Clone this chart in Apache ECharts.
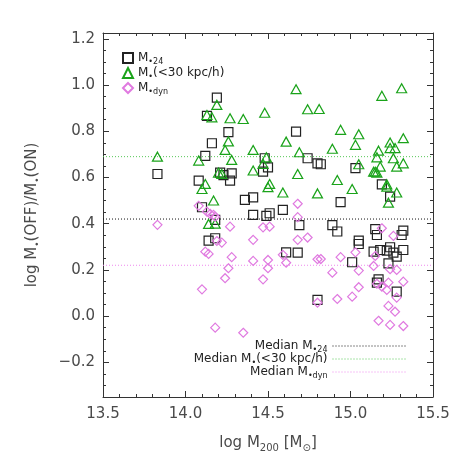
<!DOCTYPE html>
<html>
<head>
<meta charset="utf-8">
<script src="https://cdn.jsdelivr.net/npm/echarts@6/dist/echarts.min.js"></script>
<style>
  html, body { margin: 0; padding: 0; background: #fff; }
  #chart { width: 463px; height: 463px; }
</style>
</head>
<body>
<div id="chart"></div>
<script>
// values: [log M200, log M(OFF)/M(ON)]
const m24 = [
  [13.83, 0.615], [14.19, 0.945], [14.13, 0.866], [14.16, 0.748], [14.12, 0.693],
  [14.08, 0.586], [14.10, 0.471], [14.26, 0.796], [14.67, 0.798], [14.48, 0.683],
  [14.50, 0.644], [14.47, 0.625], [14.74, 0.683], [14.80, 0.661], [14.21, 0.621],
  [14.23, 0.610], [14.28, 0.618], [14.27, 0.586], [14.36, 0.503], [14.41, 0.514],
  [14.59, 0.460], [14.41, 0.438], [14.49, 0.434], [14.51, 0.445], [14.82, 0.657],
  [15.03, 0.640], [15.19, 0.570], [15.24, 0.517], [14.94, 0.493], [14.18, 0.416],
  [14.14, 0.327], [14.18, 0.337], [14.69, 0.394], [14.61, 0.276], [14.68, 0.275],
  [14.80, 0.070], [14.89, 0.394], [14.92, 0.366], [15.15, 0.376], [15.16, 0.351],
  [15.32, 0.370], [15.31, 0.351], [15.05, 0.327], [15.05, 0.312], [15.14, 0.279],
  [15.18, 0.286], [15.22, 0.283], [15.24, 0.298], [15.26, 0.275], [15.28, 0.257],
  [15.32, 0.286], [15.23, 0.228], [15.01, 0.233], [15.17, 0.159], [15.16, 0.145],
  [15.28, 0.106]
];
const m30 = [
  [14.19, 0.914], [14.13, 0.870], [14.16, 0.860], [13.83, 0.690], [14.08, 0.673],
  [14.20, 0.621], [14.12, 0.572], [14.10, 0.550], [14.17, 0.500], [14.67, 0.982],
  [14.27, 0.856], [14.35, 0.853], [14.48, 0.880], [14.74, 0.895], [14.81, 0.896],
  [14.26, 0.756], [14.24, 0.719], [14.61, 0.755], [14.41, 0.719], [14.69, 0.709],
  [14.28, 0.676], [14.49, 0.687], [14.47, 0.659], [14.41, 0.630], [14.22, 0.615],
  [14.68, 0.615], [14.51, 0.572], [14.50, 0.558], [14.59, 0.535], [14.80, 0.531],
  [15.31, 0.986], [15.19, 0.953], [14.94, 0.806], [15.05, 0.787], [15.03, 0.741],
  [15.32, 0.770], [15.24, 0.751], [14.89, 0.724], [15.24, 0.727], [15.27, 0.727],
  [15.17, 0.716], [15.16, 0.687], [15.26, 0.683], [15.32, 0.661], [15.28, 0.647],
  [15.05, 0.657], [15.18, 0.647], [15.14, 0.625], [15.15, 0.625], [15.16, 0.621],
  [14.92, 0.589], [15.01, 0.550], [15.22, 0.570], [15.22, 0.560], [15.28, 0.535],
  [15.23, 0.491], [14.14, 0.399], [14.18, 0.400]
];
const mdyn = [
  [14.08, 0.477], [14.13, 0.452], [14.15, 0.442], [14.18, 0.430], [14.17, 0.438],
  [14.68, 0.486], [14.68, 0.428], [13.83, 0.395], [14.19, 0.325], [14.12, 0.279],
  [14.14, 0.269], [14.10, 0.116], [14.18, -0.050], [14.27, 0.387], [14.47, 0.384],
  [14.51, 0.387], [14.22, 0.318], [14.41, 0.330], [14.68, 0.330], [14.74, 0.340],
  [14.28, 0.255], [14.41, 0.239], [14.50, 0.243], [14.50, 0.207], [14.59, 0.265],
  [14.61, 0.231], [14.80, 0.246], [14.26, 0.207], [14.24, 0.164], [14.47, 0.159],
  [14.80, 0.058], [14.35, -0.072], [15.19, 0.380], [15.26, 0.347], [15.03, 0.276],
  [15.15, 0.260], [14.82, 0.247], [14.94, 0.255], [15.14, 0.217], [15.05, 0.197],
  [14.89, 0.188], [15.24, 0.203], [15.28, 0.200], [15.16, 0.140], [15.19, 0.128],
  [15.23, 0.145], [15.32, 0.149], [15.22, 0.113], [15.05, 0.125], [15.28, 0.080],
  [15.01, 0.084], [14.92, 0.074], [15.23, 0.044], [15.27, 0.019], [15.17, -0.020],
  [15.24, -0.038], [15.32, -0.043]
];
const medianNames = ['Median M24', 'Median M30', 'Median Mdyn'];
const medianValues = [0.42, 0.69, 0.22];
const xRange = [13.5, 15.5];
const yRange = [-0.35, 1.225];
const yTicks = [-0.2, 0, 0.2, 0.4, 0.6, 0.8, 1.0, 1.2];
const yMinorTicks = [];
for (let i = -7; i <= 24; i++) yMinorTicks.push(+(i * 0.05).toFixed(2));

const FONT = 'DejaVu Sans';
const AXIS = '#333';
const TXT = '#4a4a4a';
const colors = { m24: '#222222', m30: '#1aa31a', mdyn: '#e07ae0' };
const medColors = ['#111111', '#55c855', '#ee88ee'];

const labels = {
  'M24': '{n|M}{s|•24}',
  'M30': '{n|M}{s|•}{n|(<30 kpc/h)}',
  'Mdyn': '{n|M}{s|•dyn}',
  'Median M24': '{n|Median M}{s|•24}',
  'Median M30': '{n|Median M}{s|•}{n|(<30 kpc/h)}',
  'Median Mdyn': '{n|Median M}{s|•dyn}'
};
const smallRich = {
  n: { fontSize: 12, lineHeight: 16, color: '#222', fontFamily: FONT },
  s: { fontSize: 8, lineHeight: 8, verticalAlign: 'bottom', color: '#222', fontFamily: FONT }
};

function xAx(pos) {
  return {
    type: 'value', position: pos, min: xRange[0], max: xRange[1], interval: 0.5,
    axisLine: { show: true, onZero: false, lineStyle: { color: AXIS, width: 1 } },
    axisTick: { show: true, inside: true, length: 6, lineStyle: { color: AXIS } },
    minorTick: { show: true, splitNumber: 5, length: 3, lineStyle: { color: AXIS } },
    axisLabel: pos === 'bottom'
      ? { show: true, margin: 10, fontSize: 15, color: TXT, fontFamily: FONT, formatter: v => v.toFixed(1) }
      : { show: false },
    splitLine: { show: false },
    minorSplitLine: { show: false }
  };
}
function yAx(pos, ticks, len, labelled) {
  return {
    type: 'value', position: pos, min: yRange[0], max: yRange[1],
    axisLine: { show: len > 4, onZero: false, lineStyle: { color: AXIS, width: 1 } },
    axisTick: { show: true, inside: true, length: len, customValues: ticks, lineStyle: { color: AXIS } },
    axisLabel: labelled
      ? { show: true, margin: 8, fontSize: 15, color: TXT, fontFamily: FONT, customValues: ticks,
          formatter: v => (v < 0 ? '\u2212' : '') + Math.abs(v).toFixed(1) }
      : { show: false },
    splitLine: { show: false }
  };
}

const xMain = xAx('bottom');
xMain.name = '{n|log M}{s|200}{n| [M}{s|⊙}{n|]}';
xMain.nameLocation = 'middle';
xMain.nameGap = 36;
xMain.nameTextStyle = {
  rich: {
    n: { fontSize: 15, lineHeight: 20, color: TXT, fontFamily: FONT },
    s: { fontSize: 10, lineHeight: 10, verticalAlign: 'bottom', color: TXT, fontFamily: FONT }
  }
};
const yMain = yAx('left', yTicks, 6, true);
yMain.name = '{n|log M}{s|•}{n|(OFF)/M}{s|•}{n|(ON)}';
yMain.nameLocation = 'middle';
yMain.nameRotate = 90;
yMain.nameGap = 61;
yMain.nameTextStyle = {
  rich: {
    n: { fontSize: 15, lineHeight: 20, color: TXT, fontFamily: FONT },
    s: { fontSize: 9, lineHeight: 9, verticalAlign: 'bottom', color: TXT, fontFamily: FONT }
  }
};

function scatter(name, data, symbol, size, color) {
  return {
    name, type: 'scatter', data, symbol, symbolSize: size,
    xAxisIndex: 0, yAxisIndex: 0,
    itemStyle: { color: 'rgba(0,0,0,0)', borderColor: color, borderWidth: 1.2, opacity: 1 },
    emphasis: { disabled: true }, z: 3
  };
}

const series = [
  scatter('M24', m24, 'rect', 9, colors.m24),
  scatter('M30', m30, 'triangle', [10, 9], colors.m30),
  scatter('Mdyn', mdyn, 'diamond', 9, colors.mdyn)
];
medianNames.forEach((n, i) => {
  series.push({
    name: n, type: 'line', symbol: 'none', silent: true,
    xAxisIndex: 0, yAxisIndex: 0,
    data: [[xRange[0], medianValues[i]], [xRange[1], medianValues[i]]],
    itemStyle: { color: medColors[i] },
    lineStyle: { color: medColors[i], width: 1, type: [1, 2] },
    z: 1
  });
});

const chart = echarts.init(document.getElementById('chart'), null, { renderer: 'canvas' });
chart.setOption({
  animation: false,
  backgroundColor: '#fff',
  textStyle: { fontFamily: FONT },
  grid: { left: 103, right: 30, top: 33, bottom: 66 },
  xAxis: [xMain, xAx('top')],
  yAxis: [yMain, yAx('right', yTicks, 6, false), yAx('left', yMinorTicks, 3, false), yAx('right', yMinorTicks, 3, false)],
  legend: [
    {
      data: ['M24', 'M30', 'Mdyn'], orient: 'vertical', left: 117, top: 47,
      itemWidth: 10, itemHeight: 10, itemGap: 1, selectedMode: false,
      formatter: n => labels[n], textStyle: { rich: smallRich }
    },
    {
      data: medianNames, orient: 'vertical', right: 51, top: 335, align: 'right',
      itemWidth: 74, itemHeight: 10, itemGap: -1, selectedMode: false,
      itemStyle: { opacity: 0 },
      lineStyle: { width: 1, type: [1, 2] },
      formatter: n => labels[n], textStyle: { rich: smallRich }
    }
  ],
  series
});
</script>
</body>
</html>
